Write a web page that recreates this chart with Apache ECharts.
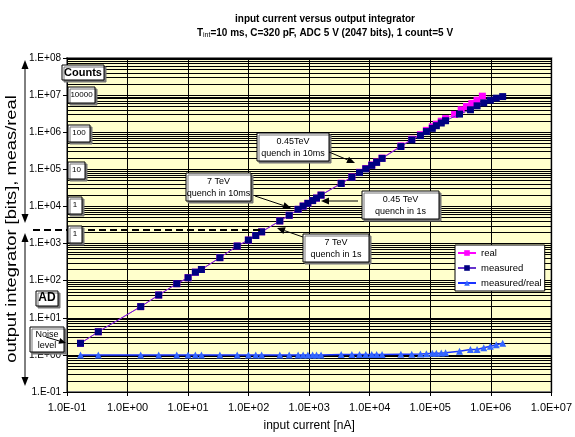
<!DOCTYPE html>
<html><head><meta charset="utf-8">
<script src="https://cdn.jsdelivr.net/npm/echarts@6/dist/echarts.min.js"></script>
<style>html,body{margin:0;padding:0;background:#fff}#c{width:575px;height:437px}</style>
</head><body><div id="c"></div>
<script>
// ---- data ----
const xTickLabels = ['1.0E-01','1.0E+00','1.0E+01','1.0E+02','1.0E+03','1.0E+04','1.0E+05','1.0E+06','1.0E+07'];
const yTickLabels = ['1.E-01','1.E+00','1.E+01','1.E+02','1.E+03','1.E+04','1.E+05','1.E+06','1.E+07','1.E+08'];

const inputCurrent = [0.167, 0.329, 1.65, 3.27, 6.5, 10, 13.2, 16.6, 33.5, 64.7, 99, 131, 164,
  327, 468, 657, 795, 951, 1140, 1320, 1570, 3380, 5070, 6780, 8600, 10800, 13000, 16000,
  32700, 49500, 68800, 86300, 108000, 126000, 152000, 179000, 304000, 461000, 593000, 764000,
  982000, 1230000, 1570000];
const measuredOutput = [2.05, 4.2, 20, 41, 83, 120, 169, 200, 417, 857, 1240, 1650, 2070,
  4070, 5780, 8360, 10200, 12100, 14400, 16800, 20200, 41500, 61100, 81700, 103000, 128000, 154000, 197000,
  412000, 622000, 811000, 1040000, 1270000, 1500000, 1770000, 2040000, 3080000, 4020000, 5140000, 6180000,
  7310000, 8270000, 9120000];
const ratioValues = [1, 1, 1, 1, 1, 1, 1, 1, 1, 1, 1, 1, 1,
  1, 1, 1, 1, 1, 1, 1, 1, 1.02, 1.02, 1.02, 1.02, 1.02, 1.02, 1.02,
  1.04, 1.04, 1.06, 1.08, 1.1, 1.1, 1.12, 1.14, 1.25, 1.39, 1.4, 1.55,
  1.72, 1.87, 2.05];
const realCurrent = [0.167, 0.329, 1.65, 3.27, 6.5, 10, 13.2, 16.6, 33.5, 64.7, 99, 131, 164,
  327, 468, 657, 795, 951, 1140, 1320, 1570, 3380, 5070, 6780, 8600, 10800, 13000, 16000,
  32700, 49500, 68800, 86300, 108000, 126000, 152000, 179000, 252000, 324000, 396000, 486000, 593000, 725000];
const realOutput = [2.05, 4.2, 20, 41, 83, 120, 169, 200, 417, 857, 1240, 1650, 2070,
  4070, 5780, 8360, 10200, 12100, 14400, 16800, 20200, 42300, 62300, 83300, 105000, 131000, 157000, 201000,
  428000, 647000, 860000, 1120000, 1400000, 1650000, 1980000, 2330000, 3010000, 4020000, 4930000, 5930000, 7310000, 9350000];

const FONT = 'Liberation Sans, Arial, sans-serif';

function pairs(xs, ys){ return xs.map((x,i)=>[x, ys[i]]); }

// minor horizontal grid values (2..9 x 10^n)
const minorY = [];
for (let e=-1; e<8; e++) for (let k=2; k<=9; k++) minorY.push({yAxis: k*Math.pow(10,e)});

function arrow(x1,y1,x2,y2,head,wid){
  head = head||8; wid = wid||3.5;
  const dx=x2-x1, dy=y2-y1, L=Math.hypot(dx,dy), ux=dx/L, uy=dy/L;
  const bx=x2-ux*head, by=y2-uy*head;
  return [
    {type:'line', z:100, shape:{x1:x1,y1:y1,x2:bx,y2:by}, style:{stroke:'#000', lineWidth:1}},
    {type:'polygon', z:100, shape:{points:[[x2,y2],[bx-uy*wid,by+ux*wid],[bx+uy*wid,by-ux*wid]]}, style:{fill:'#000'}}
  ];
}
function box(x,y,w,h,text,opt){
  opt = opt||{};
  return [
    {type:'rect', z:100, shape:{x:x,y:y,width:w,height:h},
     style:{fill:'#fff', stroke:'#000', lineWidth:1, shadowColor:'#777', shadowOffsetX:2, shadowOffsetY:2, shadowBlur:0}},
    {type:'text', z:101, x: x + w/2, y: y + (opt.dy!=null?opt.dy:3),
     style:{text:text, fill:'#000', font:(opt.bold?'bold ':'')+(opt.size||9)+'px '+FONT,
            textAlign:'center', textVerticalAlign:'top', lineHeight: opt.lh||11}}
  ];
}

let g = [];
g = g.concat(box(62,65,42,15,'Counts',{bold:true,size:11,dy:2}));
g = g.concat(box(68,87,27,16,'10000',{size:8,dy:2}));
g = g.concat(box(68,125,22,17,'100',{size:8,dy:2}));
g = g.concat(box(68,162,17,17,'10',{size:8,dy:2}));
g = g.concat(box(68,197,14,17,'1',{size:8,dy:2}));
g = g.concat(box(68,226,14,17,'1',{size:8,dy:2}));
g = g.concat(box(36,291,22,15,'AD',{bold:true,size:12,dy:1}));
g = g.concat(box(30,327,34,25,'Noise\nlevel',{size:9,dy:2,lh:11}));
g = g.concat(arrow(46,337,66,343,7,3));
// left double arrows
g = g.concat(arrow(25,140,25,60,9,3.5)).concat(arrow(25,140,25,223,9,3.5));
g = g.concat(arrow(25,310,25,233,9,3.5)).concat(arrow(25,310,25,386,9,3.5));
// dashed line
g.push({type:'line', z:99, shape:{x1:33,y1:230,x2:261,y2:230}, style:{stroke:'#000', lineWidth:2, lineDash:[7,4]}});
// annotation boxes
g = g.concat(box(257,133,72,28,'0.45TeV\nquench in 10ms',{size:9,dy:3,lh:12}));
g = g.concat(arrow(329,152,355,163,8,3.5));
g = g.concat(box(186,173,65,28,'7 TeV\nquench in 10ms',{size:9,dy:3,lh:12}));
g = g.concat(arrow(255,196,291,208,8,3.5));
g = g.concat(box(362,191,77,28,'0.45 TeV\nquench in 1s',{size:9,dy:3,lh:12}));
g = g.concat(arrow(358,201,321,201,8,3.5));
g = g.concat(box(303,234,66,28,'7 TeV\nquench in 1s',{size:9,dy:3,lh:12}));
g = g.concat(arrow(303,237,277,228,8,3.5));
// y axis name
g.push({type:'text', z:100, x:12, y:229, rotation:Math.PI/2, scaleX:1.22,
  style:{text:'output integrator [bits], meas/real', fill:'#000', font:'15px '+FONT, textAlign:'center', textVerticalAlign:'middle'}});

const option = {
  animation:false,
  backgroundColor:'#fff',
  title:{
    text:'input current versus output integrator',
    subtext:'T{s|int}=10 ms, C=320 pF, ADC 5 V (2047 bits), 1 count=5 V',
    left:320, top:9, textAlign:'center', itemGap:4,
    textStyle:{fontFamily:FONT, fontSize:10, fontWeight:'bold', color:'#000'},
    subtextStyle:{fontFamily:FONT, fontSize:10, fontWeight:'bold', color:'#000',
      rich:{s:{fontFamily:FONT, fontSize:7, fontWeight:'normal', color:'#000', verticalAlign:'bottom', padding:[4,0,0,0]}}}
  },
  legend:{
    orient:'vertical', left:455, top:245, z:20,
    data:['real','measured','measured/real'],
    backgroundColor:'#fff', borderColor:'#000', borderWidth:1, padding:[3,3,3,2],
    itemWidth:18, itemHeight:7, itemGap:5,
    textStyle:{fontFamily:FONT, fontSize:9.5, color:'#000'}
  },
  grid:{left:67, right:22, top:58, bottom:44, show:true, backgroundColor:'#FFFFCC', borderColor:'#808080', borderWidth:2},
  xAxis:{
    type:'log', logBase:10, min:0.1, max:1e7,
    name:'input current [nA]', nameLocation:'middle', nameGap:28,
    nameTextStyle:{fontFamily:FONT, fontSize:12, color:'#000'},
    axisLine:{lineStyle:{color:'#000', width:1}},
    axisTick:{show:true, length:4, lineStyle:{color:'#000'}},
    axisLabel:{fontFamily:FONT, fontSize:11, color:'#000', margin:10,
      formatter:function(v){ const e=Math.round(Math.log10(v)); return xTickLabels[e+1]||''; }},
    splitLine:{show:true, lineStyle:{color:'#000', width:1}},
    minorTick:{show:false}, minorSplitLine:{show:false}
  },
  yAxis:{
    type:'log', logBase:10, min:0.1, max:1e8, splitNumber:10,
    axisLine:{lineStyle:{color:'#000', width:1}},
    axisTick:{show:true, length:4, lineStyle:{color:'#000'}},
    axisLabel:{fontFamily:FONT, fontSize:10, color:'#000', margin:6,
      formatter:function(v){ const e=Math.round(Math.log10(v)); return yTickLabels[e+1]||''; }},
    splitLine:{show:true, lineStyle:{color:'#000', width:1}},
    minorTick:{show:false}, minorSplitLine:{show:false}
  },
  graphic:{elements:g},
  series:[
    {name:'grid-minor', type:'line', data:[], z:1, silent:true,
     markLine:{z:1, silent:true, symbol:'none', label:{show:false}, animation:false,
       lineStyle:{color:'#000', width:1, type:'solid'}, emphasis:{disabled:true}, data:minorY}},
    {name:'real', type:'line', z:3, data:pairs(realCurrent, realOutput),
     symbol:'rect', symbolSize:7, itemStyle:{color:'#FF00FF'}, lineStyle:{color:'#FF00FF', width:1}},
    {name:'measured', type:'line', z:4, data:pairs(inputCurrent, measuredOutput),
     symbol:'rect', symbolSize:7, itemStyle:{color:'#000080'}, lineStyle:{color:'#6633CC', width:1}},
    {name:'measured/real', type:'line', z:5, data:pairs(inputCurrent, ratioValues),
     symbol:'triangle', symbolSize:7, itemStyle:{color:'#3366FF'}, lineStyle:{color:'#1A33FF', width:1.5}}
  ]
};
const chart = echarts.init(document.getElementById('c'), null, {renderer:'canvas'});
chart.setOption(option);
</script></body></html>
